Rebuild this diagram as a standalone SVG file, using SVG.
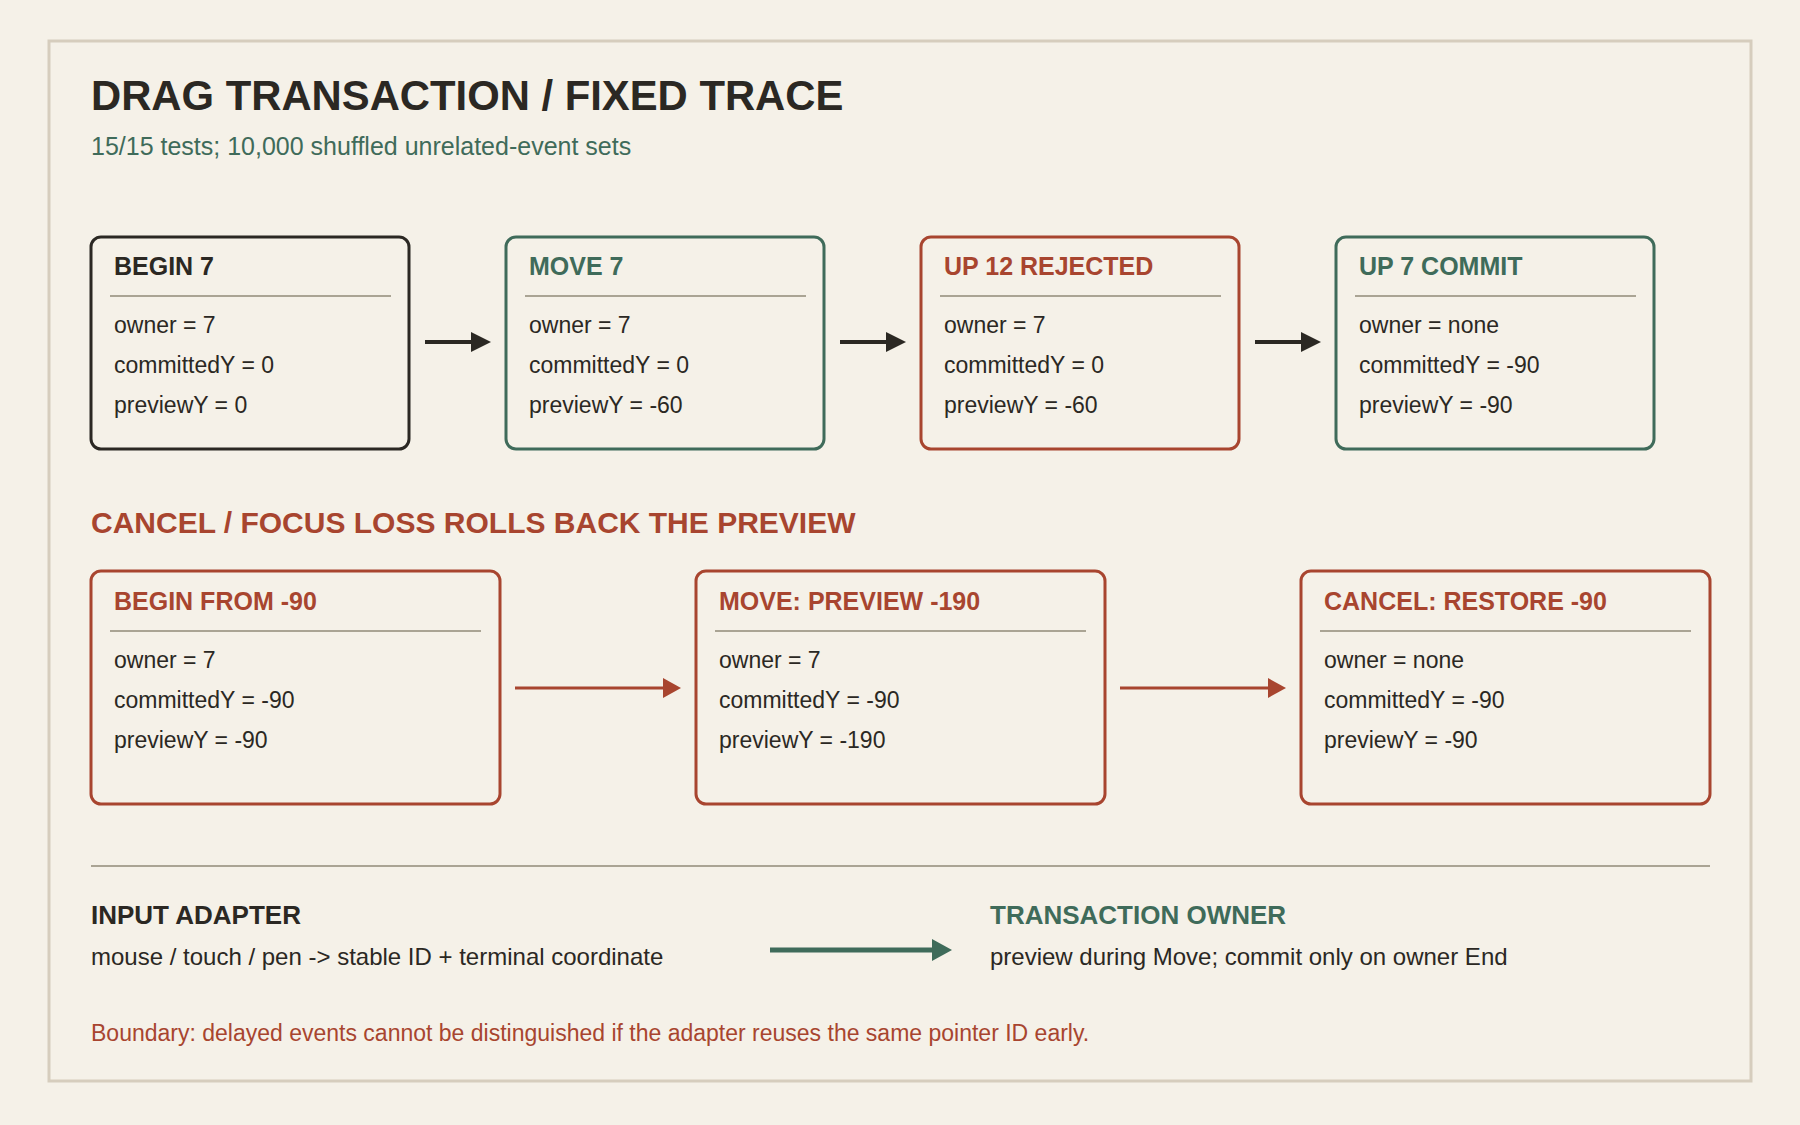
<svg xmlns="http://www.w3.org/2000/svg" width="1800" height="1125" viewBox="0 0 1800 1125">
<defs>
<style>
text{font-family:"Liberation Sans",Arial,sans-serif;}
.title{font-size:41.8px;font-weight:bold;fill:#2b2823;}
.sub{font-size:25px;fill:#3f6b5a;}
.sec{font-size:30px;font-weight:bold;fill:#a8452f;}
.hd{font-size:25px;font-weight:bold;}
.body{font-size:23px;fill:#2b2823;}
.lbl{font-size:26px;font-weight:bold;}
.desc{font-size:24px;fill:#2b2823;}
.note{font-size:23px;fill:#a8452f;}
.box{fill:none;stroke-width:3;}
.sep{stroke:#aaa494;stroke-width:2;}
.dark{stroke:#2b2823;} .green{stroke:#3f6b5a;} .red{stroke:#a8452f;}
.tdark{fill:#2b2823;} .tgreen{fill:#3f6b5a;} .tred{fill:#a8452f;}
</style>
<marker id="ahDark" markerWidth="5" markerHeight="5" refX="0" refY="2.5" orient="auto" markerUnits="strokeWidth"><path d="M0,0 L5,2.5 L0,5 Z" fill="#2b2823"/></marker>
<marker id="ahRed" markerWidth="6" markerHeight="6.6" refX="0" refY="3.3" orient="auto" markerUnits="strokeWidth"><path d="M0,0 L6,3.3 L0,6.6 Z" fill="#a8452f"/></marker>
<marker id="ahGreen" markerWidth="4" markerHeight="4.4" refX="0" refY="2.2" orient="auto" markerUnits="strokeWidth"><path d="M0,0 L4,2.2 L0,4.4 Z" fill="#3f6b5a"/></marker>
</defs>
<rect x="0" y="0" width="1800" height="1125" fill="#f5f1e8"/>
<rect x="49" y="41" width="1702" height="1040" fill="#f5f1e8" stroke="#d6cdbd" stroke-width="3"/>

<g id="header">
<text class="title" x="91" y="110">DRAG TRANSACTION / FIXED TRACE</text>
<text class="sub" x="91" y="155">15/15 tests; 10,000 shuffled unrelated-event sets</text>
</g>

<g id="begin7">
<rect class="box dark" x="91" y="237" width="318" height="212" rx="10"/>
<text class="hd tdark" x="114" y="275">BEGIN 7</text>
<line class="sep" x1="110" y1="296" x2="391" y2="296"/>
<text class="body" x="114" y="333">owner = 7</text>
<text class="body" x="114" y="373">committedY = 0</text>
<text class="body" x="114" y="413">previewY = 0</text>
</g>
<g id="move7">
<rect class="box green" x="506" y="237" width="318" height="212" rx="10"/>
<text class="hd tgreen" x="529" y="275">MOVE 7</text>
<line class="sep" x1="525" y1="296" x2="806" y2="296"/>
<text class="body" x="529" y="333">owner = 7</text>
<text class="body" x="529" y="373">committedY = 0</text>
<text class="body" x="529" y="413">previewY = -60</text>
</g>
<g id="up12">
<rect class="box red" x="921" y="237" width="318" height="212" rx="10"/>
<text class="hd tred" x="944" y="275">UP 12 REJECTED</text>
<line class="sep" x1="940" y1="296" x2="1221" y2="296"/>
<text class="body" x="944" y="333">owner = 7</text>
<text class="body" x="944" y="373">committedY = 0</text>
<text class="body" x="944" y="413">previewY = -60</text>
</g>
<g id="up7">
<rect class="box green" x="1336" y="237" width="318" height="212" rx="10"/>
<text class="hd tgreen" x="1359" y="275">UP 7 COMMIT</text>
<line class="sep" x1="1355" y1="296" x2="1636" y2="296"/>
<text class="body" x="1359" y="333">owner = none</text>
<text class="body" x="1359" y="373">committedY = -90</text>
<text class="body" x="1359" y="413">previewY = -90</text>
</g>

<text class="sec" x="91" y="533">CANCEL / FOCUS LOSS ROLLS BACK THE PREVIEW</text>

<g id="beginFrom">
<rect class="box red" x="91" y="571" width="409" height="233" rx="10"/>
<text class="hd tred" x="114" y="610">BEGIN FROM -90</text>
<line class="sep" x1="110" y1="631" x2="481" y2="631"/>
<text class="body" x="114" y="668">owner = 7</text>
<text class="body" x="114" y="708">committedY = -90</text>
<text class="body" x="114" y="748">previewY = -90</text>
</g>
<g id="movePreview">
<rect class="box red" x="696" y="571" width="409" height="233" rx="10"/>
<text class="hd tred" x="719" y="610">MOVE: PREVIEW -190</text>
<line class="sep" x1="715" y1="631" x2="1086" y2="631"/>
<text class="body" x="719" y="668">owner = 7</text>
<text class="body" x="719" y="708">committedY = -90</text>
<text class="body" x="719" y="748">previewY = -190</text>
</g>
<g id="cancelRestore">
<rect class="box red" x="1301" y="571" width="409" height="233" rx="10"/>
<text class="hd tred" x="1324" y="610">CANCEL: RESTORE -90</text>
<line class="sep" x1="1320" y1="631" x2="1691" y2="631"/>
<text class="body" x="1324" y="668">owner = none</text>
<text class="body" x="1324" y="708">committedY = -90</text>
<text class="body" x="1324" y="748">previewY = -90</text>
</g>

<line class="sep" x1="91" y1="866" x2="1710" y2="866"/>

<g id="inputAdapter">
<text class="lbl tdark" x="91" y="924">INPUT ADAPTER</text>
<text class="desc" x="91" y="965">mouse / touch / pen -&gt; stable ID + terminal coordinate</text>
</g>
<g id="transactionOwner">
<text class="lbl tgreen" x="990" y="924">TRANSACTION OWNER</text>
<text class="desc" x="990" y="965">preview during Move; commit only on owner End</text>
</g>

<g id="connectors">
<line x1="425" y1="342" x2="471" y2="342" stroke="#2b2823" stroke-width="4" marker-end="url(#ahDark)"/>
<line x1="840" y1="342" x2="886" y2="342" stroke="#2b2823" stroke-width="4" marker-end="url(#ahDark)"/>
<line x1="1255" y1="342" x2="1301" y2="342" stroke="#2b2823" stroke-width="4" marker-end="url(#ahDark)"/>
<line x1="515" y1="688" x2="663" y2="688" stroke="#a8452f" stroke-width="3" marker-end="url(#ahRed)"/>
<line x1="1120" y1="688" x2="1268" y2="688" stroke="#a8452f" stroke-width="3" marker-end="url(#ahRed)"/>
<line x1="770" y1="950" x2="932" y2="950" stroke="#3f6b5a" stroke-width="5" marker-end="url(#ahGreen)"/>
</g>

<text class="note" x="91" y="1041">Boundary: delayed events cannot be distinguished if the adapter reuses the same pointer ID early.</text>
</svg>
